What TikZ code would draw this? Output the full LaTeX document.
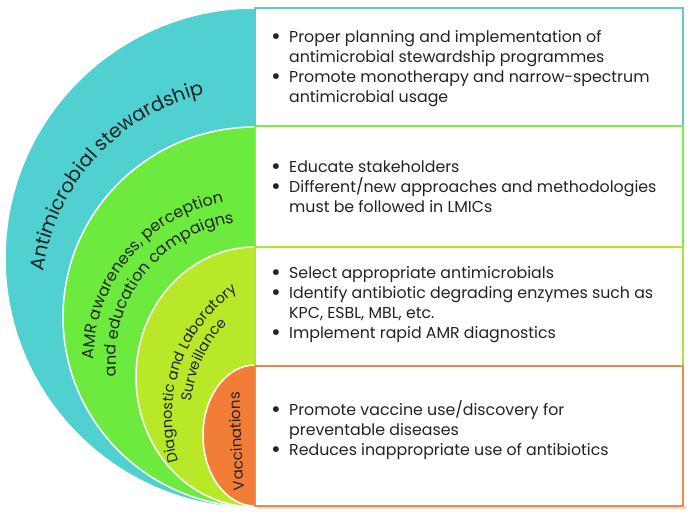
\documentclass[tikz,border=0pt]{standalone}
\usepackage{fontspec}
\setmainfont{Poppins}
\usetikzlibrary{decorations.text}
\definecolor{cteal}{RGB}{80,208,208}
\definecolor{cgreen}{RGB}{108,235,62}
\definecolor{cyg}{RGB}{184,232,40}
\definecolor{corange}{RGB}{242,125,55}
\definecolor{ctealB}{RGB}{90,205,200}
\definecolor{cgreenB}{RGB}{120,238,70}
\definecolor{cygB}{RGB}{170,230,50}
\definecolor{corangeB}{RGB}{240,135,75}
\definecolor{ctext}{RGB}{35,35,35}
\newcommand{\bitem}{\makebox[18pt][l]{\raisebox{-0.12em}{\scalebox{1.5}{•}}}}
\newcommand{\bindent}{\hspace*{18pt}}
\tikzset{
  region/.style={draw=white, line width=1.5pt},
  boxframe/.style={fill=white, line width=1.5pt},
  boxtext/.style={anchor=west, align=left, inner sep=0pt, text=ctext, font=\fontsize{15.8}{20}\selectfont},
}
\begin{document}
\begin{tikzpicture}[x=1pt,y=1pt]
\useasboundingbox (0,0) rectangle (695,518);
\fill[white] (0,0) rectangle (695,518);
% nested regions
\filldraw[region, fill=cteal] (255,510) arc[start angle=90, end angle=270, x radius=250, y radius=250] -- cycle;
\filldraw[region, fill=cgreen] (255,391) arc[start angle=90, end angle=270, x radius=192, y radius=190] -- cycle;
\filldraw[region, fill=cyg] (255,271) arc[start angle=90, end angle=270, x radius=119, y radius=130] -- cycle;
\filldraw[region, fill=corange] (255,153) arc[start angle=90, end angle=270, x radius=52, y radius=70.5] -- cycle;
% curved labels
\path[decorate, decoration={text along path, text align=center,
  text={|\color{ctext}\fontsize{19.5}{19.5}\selectfont|Antimicrobial stewardship}}]
  ([shift={(182.8:214)}]255,216) arc[start angle=182.8, end angle=92.8, radius=214];
\path[decorate, decoration={text along path, text align=center,
  text={|\color{ctext}\fontsize{16}{16}\selectfont|AMR awareness{,} perception}}]
  ([shift={(185.5:161)}]255,158) arc[start angle=185.5, end angle=95.5, radius=161];
\path[decorate, decoration={text along path, text align=center,
  text={|\color{ctext}\fontsize{16}{16}\selectfont|and education campaigns}}]
  ([shift={(192.75:139)}]255,158) arc[start angle=192.75, end angle=92.75, radius=139];
\path[decorate, decoration={text along path, text align=center,
  text={|\color{ctext}\fontsize{14.5}{14.5}\selectfont|Diagnostic and Laboratory}}]
  ([shift={(201:154)}]326,101) arc[start angle=201, end angle=121, radius=154];
\path[decorate, decoration={text along path, text align=center,
  text={|\color{ctext}\fontsize{14.5}{14.5}\selectfont|Surveillance}}]
  ([shift={(180:136)}]326,101) arc[start angle=180, end angle=130, radius=136];
\path[decorate, decoration={text along path, text align=center,
  text={|\color{ctext}\fontsize{15}{15}\selectfont|Vaccinations}}]
  (245.5,17) .. controls (242,55) and (240,100) .. (239.5,137);
% boxes
\fill[black!12] (258,9) rectangle (686,12);
\draw[boxframe, draw=ctealB] (255,392) rectangle (683,510);
\draw[boxframe, draw=cgreenB] (255,271) rectangle (683,392);
\draw[boxframe, draw=cygB] (255,152) rectangle (683,271);
\draw[boxframe, draw=corangeB] (255,12) rectangle (683,152);
% box texts
\node[boxtext] (t1) at (271,449) {\bitem Proper planning and implementation of\\
  \bindent antimicrobial stewardship programmes\\
  \bitem Promote monotherapy and narrow-spectrum\\
  \bindent antimicrobial usage};
\node[boxtext] (t2) at (271,331) {\bitem Educate stakeholders\\
  \bitem Different/new approaches and methodologies\\
  \bindent must be followed in LMICs};
\node[boxtext] (t3) at (271,213) {\bitem Select appropriate antimicrobials\\
  \bitem Identify antibiotic degrading enzymes such as\\
  \bindent KPC, ESBL, MBL, etc.\\
  \bitem Implement rapid AMR diagnostics};
\node[boxtext] (t4) at (271,88) {\bitem Promote vaccine use/discovery for\\
  \bindent preventable diseases\\
  \bitem Reduces inappropriate use of antibiotics};
\end{tikzpicture}
\end{document}
